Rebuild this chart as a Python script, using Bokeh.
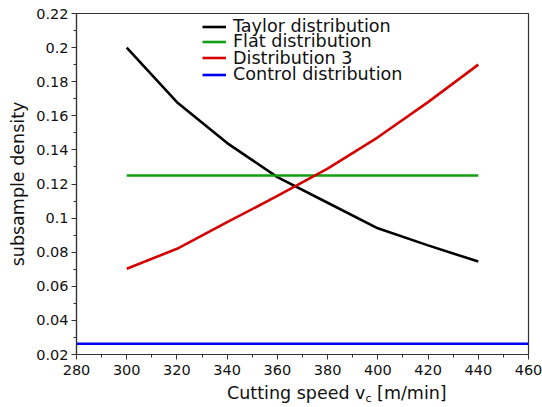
from bokeh.plotting import figure
from bokeh.layouts import column
from bokeh.models import (Range1d, FixedTicker, CustomJSTickFormatter, Legend,
                          LegendItem, Div)
from bokeh.embed import file_html
from bokeh.resources import INLINE

speed = [300, 320, 340, 360, 380, 400, 420, 440]
taylor = [0.200, 0.168, 0.144, 0.124, 0.109, 0.094, 0.084, 0.0745]
flat = [0.125] * 8
dist3 = [0.0703, 0.082, 0.0976, 0.113, 0.129, 0.1474, 0.168, 0.190]
control_x = [280, 460]
control_y = [0.0263, 0.0263]

series_names = ["Taylor distribution", "Flat distribution", "Distribution 3",
                "Control distribution"]

x_ticks = [280, 300, 320, 340, 360, 380, 400, 420, 440, 460]
x_minor = [290, 310, 330, 350, 370, 390, 410, 430, 450]
y_ticks = [0.02, 0.04, 0.06, 0.08, 0.10, 0.12, 0.14, 0.16, 0.18, 0.20, 0.22]
y_minor = [0.03, 0.05, 0.07, 0.09, 0.11, 0.13, 0.15, 0.17, 0.19, 0.21]

FONT = "DejaVu Sans"
TXT = "#111111"

p = figure(width=542, height=380, output_backend="svg", toolbar_location=None,
           x_range=Range1d(280, 460), y_range=Range1d(0.02, 0.22),
           min_border_left=76, min_border_right=14, min_border_top=13,
           min_border_bottom=26)
p.grid.visible = False
p.outline_line_color = "#333333"
p.outline_line_width = 1.2
p.background_fill_color = "white"
p.border_fill_color = "white"

LW = 2.6
l1 = p.line(speed, taylor, line_color="black", line_width=LW)
l2 = p.line(speed, flat, line_color="#12a012", line_width=LW)
l3 = p.line(speed, dist3, line_color="#d40000", line_width=LW)
l4 = p.line(control_x, control_y, line_color="#0000f0", line_width=LW)

p.xaxis.ticker = FixedTicker(ticks=x_ticks, minor_ticks=x_minor)
p.yaxis.ticker = FixedTicker(ticks=y_ticks, minor_ticks=y_minor)
p.yaxis.formatter = CustomJSTickFormatter(code="return String(Math.round(tick*100)/100);")

for ax in (p.xaxis[0], p.yaxis[0]):
    ax.axis_line_color = "#333333"
    ax.axis_line_width = 1.2
    ax.major_tick_line_color = "#333333"
    ax.minor_tick_line_color = "#333333"
    ax.major_tick_in = 0
    ax.major_tick_out = 5
    ax.minor_tick_in = 0
    ax.minor_tick_out = 3
    ax.major_label_text_font = FONT
    ax.major_label_text_font_size = "14.5px"
    ax.major_label_text_color = TXT
    ax.axis_label_text_font = FONT
    ax.axis_label_text_font_size = "17.5px"
    ax.axis_label_text_font_style = "normal"
    ax.axis_label_text_color = TXT

p.xaxis.major_label_standoff = 5
p.yaxis.major_label_standoff = 3
p.yaxis.axis_label = "subsample density"
p.yaxis.axis_label_standoff = 5

# one single-row legend per series, stacked tightly
row_bottoms = [318, 303, 286.3, 270]
for name, r, vy in zip(series_names, [l1, l2, l3, l4], row_bottoms):
    lg = Legend(items=[LegendItem(label=name, renderers=[r])],
                location=(126, vy), margin=0, padding=0, spacing=0,
                label_height=17, glyph_height=17, glyph_width=24,
                label_standoff=7, label_text_font=FONT,
                label_text_font_size="17.6px", label_text_color=TXT,
                border_line_alpha=0, background_fill_alpha=0)
    p.add_layout(lg)

xlabel = Div(
    text=('<div style="margin-left:227px;margin-top:3px;white-space:nowrap;'
          'font-family:\'DejaVu Sans\';font-size:17.5px;color:#111111;line-height:20px">'
          'Cutting speed v<sub style="font-size:11px;vertical-align:-3px;line-height:0">c</sub>'
          ' [m/min]</div>'),
    width=542, height=27, margin=0)

layout = column(p, xlabel, spacing=0)
open("out.html", "w").write(file_html(layout, INLINE))
